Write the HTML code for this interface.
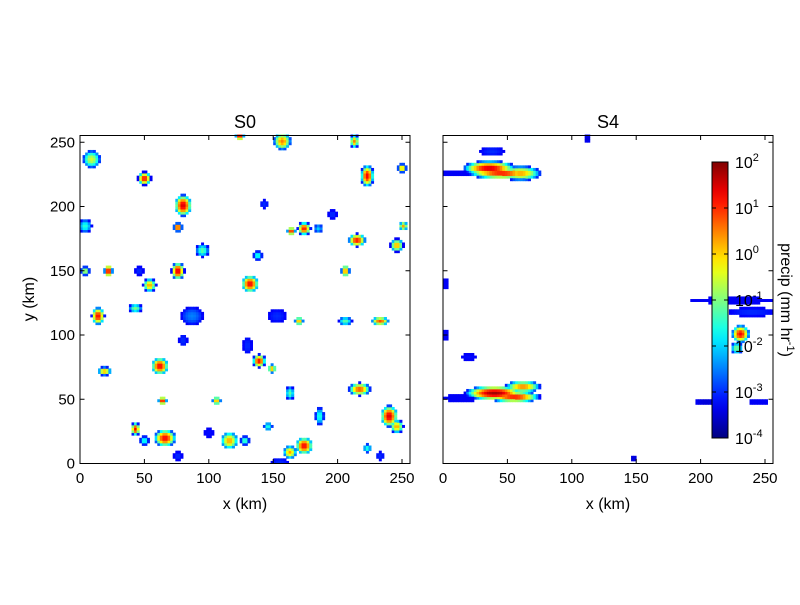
<!DOCTYPE html>
<html><head><meta charset="utf-8"><style>
body{margin:0;background:#fff;}
svg{font-family:"Liberation Sans",sans-serif;}
</style></head><body>
<svg id="chart" width="800" height="600">
</svg>
<script>
// blobs: [cx km, cy km, rx km, ry km, peak log10 value]
const blobsS0 = [
[9,237,4,4,-0.5],[50,222,3,3,1.3],[80,201,4,5,1.5],[76,184,2,2,1.2],[4,185,3,3,-1.5],
[22,150,2,3,1.5],[54,139,3,3,0.3],[76,150,3,4,1.5],[95,166,3,3,-1.2],[14,115,3,4,1.3],
[43,121,3,2,-1],[87,115,5,4,-2.5],[132,140,4,4,1.3],[143,202,2,2,-3],[157,251,4,4,0.5],
[124,255,2,2,1.5],[138,162,2,2,-1.5],[164,181,2,2,1.2],[174,183,3,3,1.2],[213,251,2,3,0.5],
[223,224,3,5,1.3],[215,174,4,3,1.2],[246,170,3,3,0.3],[206,150,2,3,0.5],[250,230,2,2,0.3],
[251,185,2,2,0.3],[170,111,2,2,0.3],[206,111,3,2,-1.2],[233,111,4,2,0.8],[62,76,4,4,1.3],
[19,72,3,2,0.3],[130,92,2,4,-3],[139,80,3,3,1.3],[149,74,2,2,0.3],[80,96,2,3,-3],
[163,55,2,3,-1.2],[186,37,2,4,-1.5],[217,58,5,3,0.8],[240,37,4,5,1.5],[246,29,3,3,0.3],
[64,49,2,2,1.3],[106,49,2,2,0.3],[43,27,2,3,1.3],[50,18,2,2,-1.5],[66,20,5,4,1.3],
[116,18,4,4,0.3],[128,18,2,2,-1.2],[146,29,2,2,-1.5],[174,14,4,4,1.3],[163,9,3,3,0.3],
[155,1,4,2,-3],[76,6,2,2,-3],[223,12,2,2,-1.5],[233,6,2,2,-3],[4,150,2,2,-0.5],
[185,183,2,2,-2],[100,24,3,2,-3.2],[153,115,4,3,-3],[46,150,2,2,-3],[196,194,2,2,-3]
];
const blobsS4 = [
[36,230,18,5,1.5],[45,226,22,4,1.2],[60,226,14,5,0.3],[38,243,8,3,-3],
[12,226,12,2,-3.3],
[40,55,20,5,1.8],[55,52,18,4,1.2],[62,60,12,4,0.5],[14,51,14,2,-3.3],[20,83,5,2,-3.2],
[226,127,30,2,-3.3],[240,118,16,3,-3],[231,101,6,6,1.3],[228,90,4,4,-1],[245,48,6,2,-3.3],
[205,48,8,2,-3.5],[2,140,2,3,-3.3],[2,100,2,3,-3.3],[112,253,1,1,-3.5],[148,4,1,2,-3.5]
];
const xTicks = [0,50,100,150,200,250];
const yTicks = [0,50,100,150,200,250];
const cbTicks = [-4,-3,-2,-1,0,1,2];

const NS="http://www.w3.org/2000/svg";
const svg=document.getElementById('chart');
function mk(tag,attrs,parent){const e=document.createElementNS(NS,tag);for(const k in attrs)e.setAttribute(k,attrs[k]);(parent||svg).appendChild(e);return e;}
function jet(t){const c=v=>Math.round(255*Math.max(0,Math.min(1,v)));
 return `rgb(${c(1.5-Math.abs(4*t-3))},${c(1.5-Math.abs(4*t-2))},${c(1.5-Math.abs(4*t-1))})`;}
const Y0=463.5, YS=1.285, XS=1.288;
function panel(x0,blobs,title,name,showY,scale){
 const g=mk('g',{});  
 const sx=v=>x0+v*XS, sy=v=>Y0-v*YS;
 const cells=new Map();
 blobs.forEach(b=>{
  const rx=Math.max(2.5,b[2]*scale), ry=Math.max(2.5,b[3]*scale);
  for(let i=0;i<128;i++)for(let j=0;j<128;j++){
   const cx=i*2+1, cy=j*2+1;
   const d=Math.hypot((cx-b[0])/rx,(cy-b[1])/ry);
   if(d<=1){const v=b[4]-(b[4]+3.3)*d*d;
    const k=i*128+j; if(!cells.has(k)||cells.get(k)<v)cells.set(k,v);}
  }});
 cells.forEach((v,k)=>{const i=Math.floor(k/128), j=k%128;
  const t=Math.max(0,Math.min(1,(v+4)/6));
  const r=mk('rect',{x:sx(i*2),y:sy(j*2+2),width:2*XS+0.4,height:2*YS+0.4,fill:jet(t)},g);
   });
 const f=mk('rect',{x:x0,y:135.5,width:330,height:328,fill:'none',stroke:'#000','stroke-width':1},g);
  
 xTicks.forEach(v=>{const x=sx(v);
  mk('line',{x1:x,x2:x,y1:463.5,y2:459,stroke:'#000'},g);mk('line',{x1:x,x2:x,y1:135.5,y2:140,stroke:'#000'},g);
  const t=mk('text',{x:x,y:483,'font-size':15,'text-anchor':'middle'},g);t.textContent=v;
   });
 yTicks.forEach(v=>{const y=sy(v);
  mk('line',{x1:x0,x2:x0+4.5,y1:y,y2:y,stroke:'#000'},g);mk('line',{x1:x0+330,x2:x0+325.5,y1:y,y2:y,stroke:'#000'},g);
  if(showY){const t=mk('text',{x:x0-5,y:y+5,'font-size':15,'text-anchor':'end'},g);t.textContent=v;
   }});
 const tt=mk('text',{x:x0+165,y:128,'font-size':18,'text-anchor':'middle'},g);tt.textContent=title;
  
 const xl=mk('text',{x:x0+165,y:509,'font-size':16,'text-anchor':'middle'},g);xl.textContent='x (km)';
  
 if(showY){const yl=mk('text',{x:0,y:0,'font-size':16,'text-anchor':'middle',transform:`translate(34,${299}) rotate(-90)`},g);yl.textContent='y (km)';
  }
}
panel(80,blobsS0,'S0','panel-s0',true,1.7);
panel(443,blobsS4,'S4','panel-s4',false,1.15);
// colorbar
const cb=mk('g',{});  
const defs=mk('defs',{}); const lg=mk('linearGradient',{id:'jetg',x1:0,y1:1,x2:0,y2:0},defs);
for(let i=0;i<=20;i++){mk('stop',{offset:i/20,'stop-color':jet(i/20)},lg);}
const cbTop=162, cbBot=438;
mk('rect',{x:712,y:cbTop,width:16,height:cbBot-cbTop,fill:'url(#jetg)',stroke:'#000'},cb);
cbTicks.forEach(v=>{const y=cbBot-(v+4)/6*(cbBot-cbTop);
 mk('line',{x1:712,x2:716,y1:y,y2:y,stroke:'#000'},cb);mk('line',{x1:728,x2:724,y1:y,y2:y,stroke:'#000'},cb);
 const t=mk('text',{x:735,y:y+6,'font-size':16},cb);
  
 t.appendChild(document.createTextNode('10'));const s=mk('tspan',{dy:-7,'font-size':11},t);s.textContent=v;});
const cl=mk('text',{x:0,y:0,'font-size':16,'text-anchor':'middle',transform:'translate(781,300) rotate(90)'},cb);
 
cl.appendChild(document.createTextNode('precip (mm hr'));const s2=mk('tspan',{dy:-6,'font-size':11},cl);s2.textContent='-1';
const s3=mk('tspan',{dy:6},cl);s3.textContent=')';
</script>
</body></html>
